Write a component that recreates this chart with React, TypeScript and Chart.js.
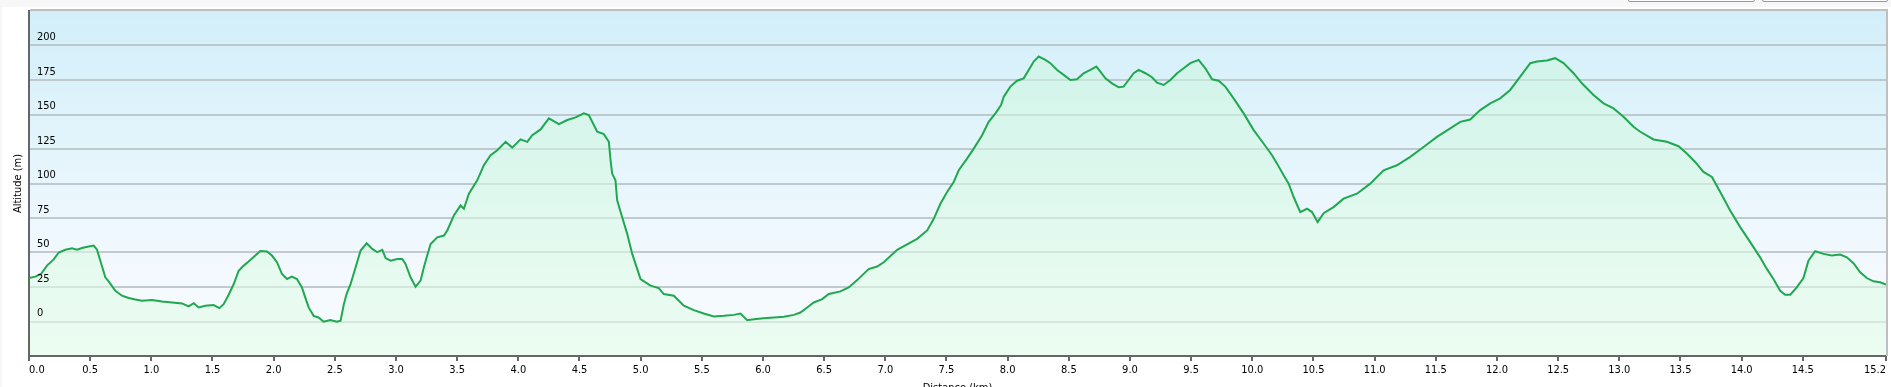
import React, { useEffect, useRef } from "react";
import { Chart, registerables } from "chart.js";

Chart.register(...registerables);

const distanceKm: number[] = [
  0.0, 0.052, 0.098, 0.147, 0.202, 0.243, 0.297, 0.352, 0.393, 0.433, 0.488, 0.529, 0.556, 0.583, 0.624, 0.651,
  0.706, 0.76, 0.815, 0.869, 0.924, 1.005, 1.087, 1.169, 1.251, 1.305, 1.346, 1.387, 1.441, 1.509, 1.556, 1.591,
  1.632, 1.673, 1.714, 1.755, 1.795, 1.85, 1.891, 1.945, 1.986, 2.027, 2.068, 2.109, 2.149, 2.19, 2.231, 2.258,
  2.286, 2.327, 2.367, 2.408, 2.463, 2.517, 2.547, 2.574, 2.596, 2.629, 2.67, 2.711, 2.76, 2.806, 2.847, 2.888,
  2.915, 2.956, 3.01, 3.051, 3.078, 3.119, 3.16, 3.201, 3.228, 3.255, 3.283, 3.337, 3.392, 3.419, 3.473, 3.528,
  3.555, 3.596, 3.664, 3.718, 3.773, 3.828, 3.896, 3.95, 4.018, 4.073, 4.114, 4.182, 4.25, 4.331, 4.4, 4.468,
  4.535, 4.576, 4.645, 4.699, 4.74, 4.754, 4.767, 4.794, 4.808, 4.849, 4.89, 4.931, 4.999, 5.08, 5.148, 5.189,
  5.271, 5.353, 5.434, 5.516, 5.598, 5.68, 5.761, 5.816, 5.871, 5.925, 6.006, 6.088, 6.17, 6.252, 6.306, 6.361,
  6.415, 6.484, 6.538, 6.633, 6.701, 6.77, 6.864, 6.933, 6.987, 7.097, 7.178, 7.26, 7.342, 7.396, 7.45, 7.505,
  7.559, 7.6, 7.668, 7.723, 7.791, 7.845, 7.9, 7.946, 7.968, 8.022, 8.077, 8.131, 8.172, 8.213, 8.254, 8.308,
  8.349, 8.404, 8.458, 8.513, 8.567, 8.621, 8.676, 8.725, 8.758, 8.799, 8.853, 8.907, 8.948, 8.989, 9.03, 9.071,
  9.126, 9.18, 9.221, 9.275, 9.33, 9.385, 9.439, 9.493, 9.561, 9.616, 9.671, 9.725, 9.779, 9.847, 9.929, 10.011,
  10.092, 10.161, 10.202, 10.256, 10.297, 10.338, 10.392, 10.447, 10.488, 10.534, 10.583, 10.664, 10.746, 10.855,
  10.964, 11.073, 11.182, 11.291, 11.4, 11.509, 11.618, 11.7, 11.781, 11.863, 11.945, 12.026, 12.108, 12.19,
  12.272, 12.326, 12.408, 12.476, 12.544, 12.626, 12.694, 12.789, 12.871, 12.953, 13.034, 13.116, 13.171, 13.28,
  13.389, 13.484, 13.552, 13.62, 13.688, 13.757, 13.825, 13.906, 13.988, 14.07, 14.151, 14.206, 14.26, 14.315,
  14.356, 14.397, 14.451, 14.505, 14.546, 14.601, 14.669, 14.737, 14.805, 14.86, 14.914, 14.969, 15.023, 15.077,
  15.132, 15.18,
];

const altitudeM: number[] = [
  31.5, 32.5, 34.4, 40.5, 45, 50, 52, 53, 52, 53.3, 54.3, 55, 52, 44, 32, 29,
  22.3, 18.7, 17, 16, 15, 15.5, 14.5, 13.8, 13.1, 11, 13.3, 10.2, 11.4, 11.9, 9.7, 12.6,
  19.4, 27, 36.8, 40.5, 43.4, 47.8, 51, 50.7, 47.8, 43, 34.4, 30.8, 32.5, 30.8, 24.7, 17.5,
  10.2, 4.1, 2.9, -0.2, 1, -0.2, 0.5, 12.6, 19.9, 27.2, 39.3, 51.4, 56.7, 52.6, 50.2, 51.9,
  46, 44.1, 45.3, 45.3, 41.7, 32, 25.2, 29.6, 39.3, 47.8, 56.2, 61, 62.3, 66, 76.8, 84.1,
  81.7, 92.6, 102.3, 113.2, 120.5, 124.1, 130.2, 126, 132, 130.2, 135, 139.2, 147.2, 143, 146, 147.9,
  150.8, 149.6, 137.5, 135.8, 130.2, 116.8, 107.2, 102.3, 87.8, 75.6, 63.5, 49, 30.8, 26, 24.2, 19.9,
  18.7, 11.4, 8.2, 5.8, 3.6, 4.1, 4.8, 5.8, 1, 1.7, 2.4, 2.9, 3.4, 4.8, 6.5, 10.2,
  13.8, 16.2, 19.9, 21.8, 24.7, 30, 38, 39.8, 42.9, 51.9, 55.8, 59.9, 66, 74.4, 85.3, 93.8,
  101, 109.6, 118, 125.3, 135, 144.7, 150.8, 156.8, 162.9, 170.2, 174.5, 176.2, 182.3, 188.4, 192, 189.6,
  187.2, 182.3, 178.7, 175, 175.5, 179.9, 182.3, 184.7, 181.1, 176.2, 172.6, 169.7, 170.2, 175, 179.9, 182.3,
  179.9, 177, 173.1, 171.4, 175, 179.9, 183.5, 187.2, 189.6, 183.5, 175.5, 174.5, 170.2, 161.7, 150.8, 138.7,
  129, 120.5, 114.4, 105.9, 99.9, 90.2, 79.3, 81.7, 79.3, 72, 78.5, 82.9, 89, 92.6,
  99.9, 109.6, 113.2, 119.3, 126.5, 133.8, 139.9, 144.7, 146.4, 153.2, 158.1, 161.7, 167.8, 177.5,
  187.2, 188.4, 189.1, 190.8, 187.2, 179.9, 172.6, 164.1, 158.1, 154.4, 148.4, 141.1, 137.5, 131.9,
  130.2, 127, 121.7, 115.6, 108.4, 104.7, 93.8, 80.5, 68.4, 57.5, 46.5, 38.1, 30.8, 22.3,
  19.4, 19.4, 24.7, 31.5, 44.1, 50.9, 49, 47.8, 48.5, 46.5, 42.2, 35.6, 31.5, 29.1,
  28.4, 26.7,
];

const xTickValues: number[] = [
  0, 0.5, 1, 1.5, 2, 2.5, 3, 3.5, 4, 4.5, 5, 5.5, 6, 6.5, 7, 7.5, 8, 8.5, 9, 9.5, 10, 10.5, 11, 11.5, 12,
  12.5, 13, 13.5, 14, 14.5, 15.18,
];
const yTickLabels: number[] = [0, 25, 50, 75, 100, 125, 150, 175, 200];
const yMin = -25;
const yMax = 225;
const yStep = 25;
const xAxisTitle = "Distance (km)";
const yAxisTitle = "Altitude (m)";

const FONT = '"DejaVu Sans Condensed", Tahoma, Verdana, "DejaVu Sans", sans-serif';

export default function App() {
  const ref = useRef<HTMLCanvasElement>(null);

  useEffect(() => {
    const canvas = ref.current;
    if (!canvas) return;

    const plotPlugin = {
      id: "plotDecor",
      beforeDraw(chart: any) {
        const { ctx, chartArea: a } = chart;
        if (!a) return;
        const g = ctx.createLinearGradient(0, a.top, 0, a.bottom);
        g.addColorStop(0, "#d2eff9");
        g.addColorStop(0.75, "#f3f9fe");
        g.addColorStop(1, "#f7fbfe");
        ctx.save();
        ctx.fillStyle = g;
        ctx.fillRect(a.left, a.top, a.right - a.left, a.bottom - a.top);
        ctx.restore();
      },
      afterDraw(chart: any) {
        const { ctx, chartArea: a } = chart;
        if (!a) return;
        ctx.save();
        ctx.strokeStyle = "#bfbfbf";
        ctx.lineWidth = 2;
        ctx.beginPath();
        ctx.moveTo(a.left + 1, a.top - 1);
        ctx.lineTo(a.right + 1, a.top - 1);
        ctx.lineTo(a.right + 1, a.bottom);
        ctx.stroke();
        ctx.restore();
      },
    };

    const chart = new Chart(canvas, {
      type: "line",
      data: {
        datasets: [
          {
            data: distanceKm.map((d, i) => ({ x: d, y: altitudeM[i] })),
            borderColor: "#1fa84f",
            borderWidth: 2,
            pointRadius: 0,
            tension: 0,
            fill: "start",
            backgroundColor: (c: any) => {
              const ch = c.chart;
              const a = ch.chartArea;
              if (!a) return "rgba(200,245,220,0.5)";
              const g = ch.ctx.createLinearGradient(0, a.top, 0, a.bottom);
              g.addColorStop(0, "rgba(200,245,220,0.55)");
              g.addColorStop(1, "rgba(228,253,232,0.6)");
              return g;
            },
          },
        ],
      },
      options: {
        animation: false,
        responsive: false,
        devicePixelRatio: 1,
        layout: { padding: { left: 2, top: 11, right: 5, bottom: 0 } },
        plugins: { legend: { display: false }, tooltip: { enabled: false } },
        scales: {
          x: {
            type: "linear",
            min: 0,
            max: distanceKm[distanceKm.length - 1],
            afterBuildTicks: (s: any) => {
              s.ticks = xTickValues.map((v) => ({ value: v }));
            },
            afterFit: (s: any) => {
              s.height = 44;
              s.paddingLeft = 0;
              s.paddingRight = 0;
            },
            ticks: {
              autoSkip: false,
              maxRotation: 0,
              minRotation: 0,
              align: "inner",
              padding: 3,
              color: "#000",
              font: { family: FONT, size: 11 },
              callback: (v: any) => Number(v).toFixed(1),
            },
            grid: {
              drawOnChartArea: false,
              drawTicks: true,
              tickLength: 5,
              color: "#666",
              lineWidth: 2,
            },
            border: { display: true, color: "#666", width: 2, z: 1 },
            title: {
              display: true,
              text: xAxisTitle,
              color: "#000",
              font: { family: FONT, size: 11 },
              padding: { top: 0, bottom: 5 },
            },
          },
          y: {
            type: "linear",
            min: yMin,
            max: yMax,
            afterFit: (s: any) => {
              s.width = 27;
              s.paddingTop = 0;
              s.paddingBottom = 0;
            },
            ticks: {
              z: 1,
              stepSize: yStep,
              mirror: true,
              padding: 8,
              labelOffset: -8,
              color: "#000",
              font: { family: FONT, size: 11 },
              callback: (v: any) => (yTickLabels.includes(Number(v)) ? String(v) : ""),
            },
            grid: {
              drawTicks: false,
              lineWidth: 2,
              color: (c: any) => {
                const v = c.tick ? c.tick.value : 0;
                return v <= yMin || v >= yMax ? "rgba(0,0,0,0)" : "rgba(180,190,195,0.8)";
              },
            },
            border: { display: true, color: "#666", width: 2, z: 1 },
            title: {
              display: true,
              text: yAxisTitle,
              color: "#000",
              font: { family: FONT, size: 11 },
              padding: { top: 10, bottom: 0 },
            },
          },
        },
      },
      plugins: [plotPlugin],
    } as any);

    return () => chart.destroy();
  }, []);

  return (
    <div
      style={{
        position: "fixed",
        left: 0,
        top: 0,
        width: 1891,
        height: 387,
        overflow: "hidden",
        background: "#f7f7f7",
      }}
    >
      <div style={{ position: "absolute", left: 2, top: 7, right: 0, bottom: 0, background: "#fff" }} />
      <div
        style={{
          position: "absolute",
          left: 1628,
          top: -20,
          width: 125,
          height: 20,
          border: "1px solid #9a9a9a",
          borderRadius: 2,
          background: "#fdfdfd",
        }}
      />
      <div
        style={{
          position: "absolute",
          left: 1762,
          top: -20,
          width: 124,
          height: 20,
          border: "1px solid #9a9a9a",
          borderRadius: 2,
          background: "#fdfdfd",
        }}
      />
      <canvas
        ref={ref}
        width={1891}
        height={400}
        style={{ position: "absolute", left: 0, top: 0, width: 1891, height: 400 }}
      />
    </div>
  );
}
